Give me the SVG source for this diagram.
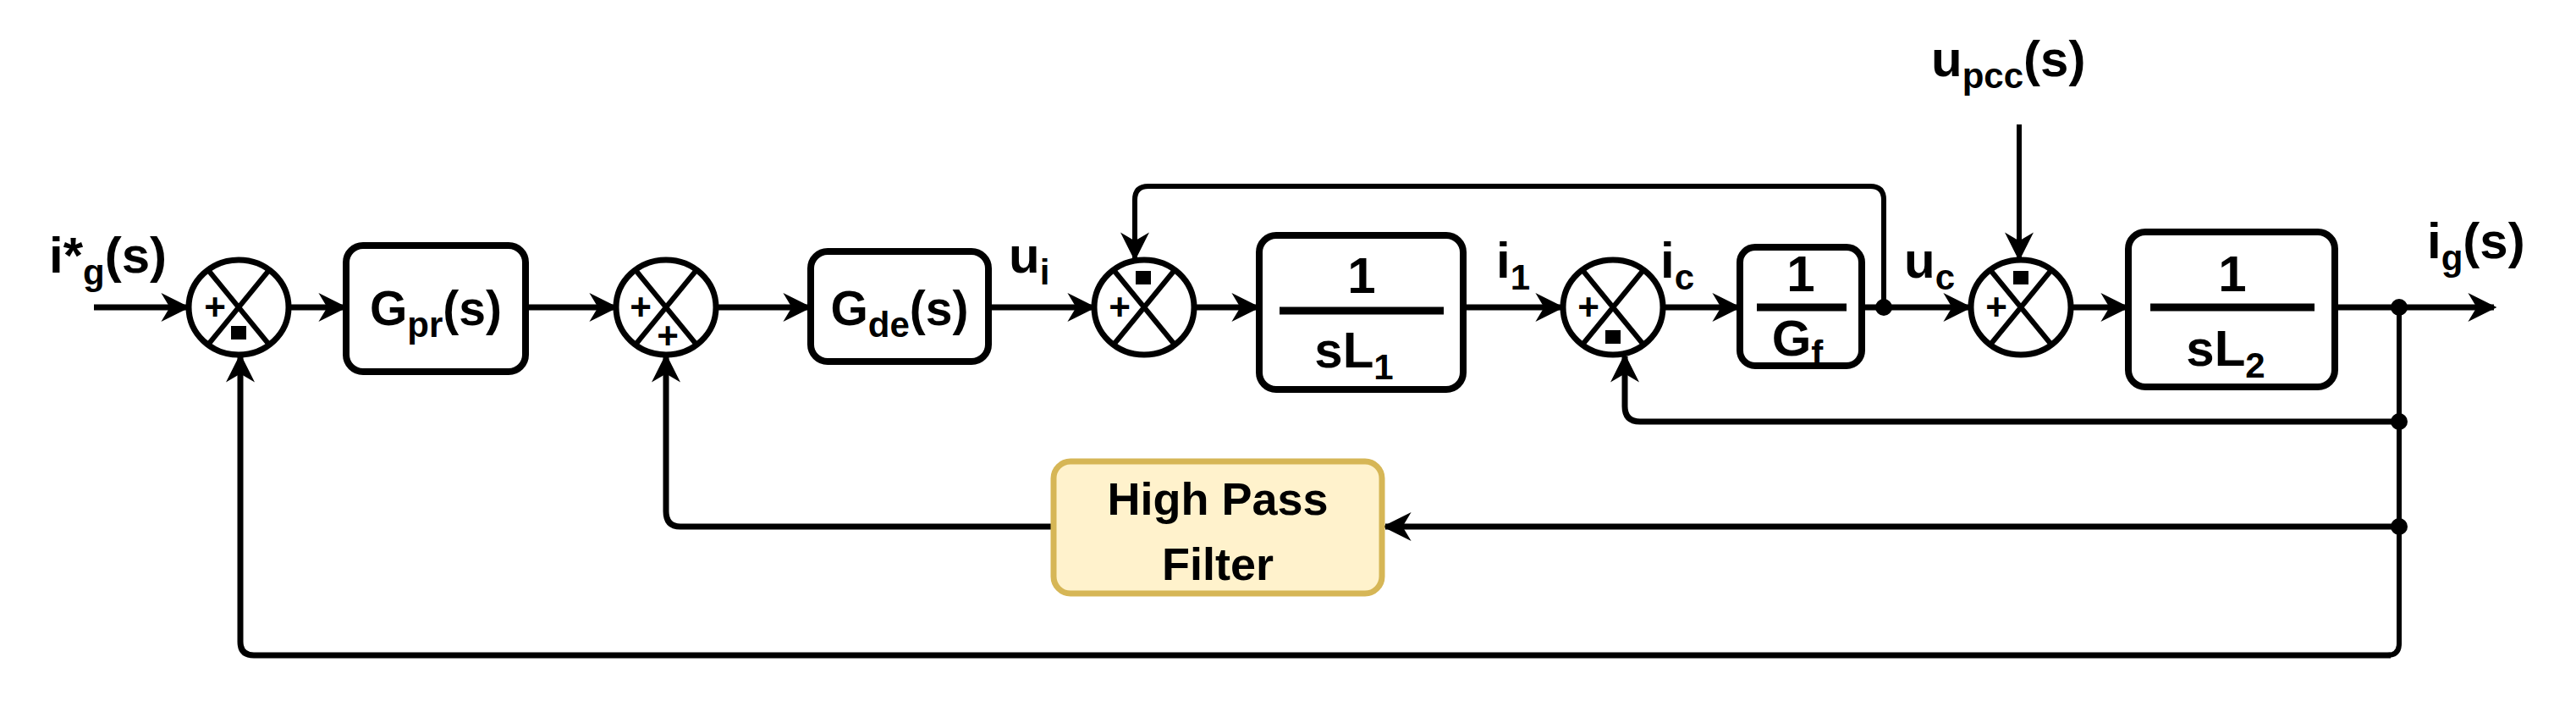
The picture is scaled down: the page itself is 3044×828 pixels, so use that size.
<svg xmlns="http://www.w3.org/2000/svg" width="3044" height="828" viewBox="0 0 3044 828">
<style>
text{font-family:"Liberation Sans",Arial,sans-serif;font-weight:bold;fill:#000}
.lbl{font-size:60px}
.sub{font-size:42px}
.bl{font-size:57px}
.sg{font-size:44px;text-anchor:middle}
.box{fill:#fff;stroke:#000;stroke-width:8}
.sum{fill:#fff;stroke:#000;stroke-width:7}
.w{fill:none;stroke:#000;stroke-width:7;stroke-linejoin:round}
.c{fill:none;stroke:#000;stroke-width:6}
.a{marker-end:url(#ah)}
.frac{stroke:#000;stroke-width:9}
.mid{text-anchor:middle}
</style>
<defs>
<marker id="ah" markerUnits="userSpaceOnUse" markerWidth="34" markerHeight="34" viewBox="0 0 10 10" refX="9" refY="5" orient="auto">
<path d="M0,0 L10,5 L0,10 L3,5 z" fill="#000"/>
</marker>
<g id="sumx">
<ellipse cx="0" cy="0" rx="59" ry="56" class="sum"/>
<line x1="-36" y1="-44" x2="36" y2="44" stroke="#000" stroke-width="6"/>
<line x1="36" y1="-44" x2="-36" y2="44" stroke="#000" stroke-width="6"/>
</g>
</defs>

<g id="connectors">
<path class="w a" d="M111,363 H221"/>
<path class="w a" d="M343,363 H407"/>
<path class="w a" d="M623,363 H727"/>
<path class="w a" d="M848,363 H956"/>
<path class="w a" d="M1170,363 H1292"/>
<path class="w a" d="M1411,363 H1486"/>
<path class="w a" d="M1731,363 H1845"/>
<path class="w a" d="M1966,363 H2054"/>
<path class="w a" d="M2202,363 H2327"/>
<path class="w a" d="M2449,363 H2513"/>
<path class="w a" d="M2761,363 H2947"/>
<path class="c a" d="M2226,363 V236 Q2226,220 2210,220 H1357 Q1341,220 1341,236 V305"/>
<path class="c a" d="M2386,147 V305"/>
<path class="c" d="M2835,363 V760 Q2835,774 2821,774"/>
<path class="w a" d="M2835,498 H1938 Q1920,498 1920,480 V421"/>
<path class="w a" d="M2835,622 H1637"/>
<path class="w a" d="M1243,622 H804 Q787,622 787,604 V421"/>
<path class="w a" d="M2825,774 H300 Q284,774 284,758 V421"/>
<circle cx="2226" cy="363" r="10"/>
<circle cx="2835" cy="363" r="10"/>
<circle cx="2835" cy="498" r="10"/>
<circle cx="2835" cy="622" r="10"/>
</g>

<g id="input-label"><text x="58" y="322" class="lbl">i*<tspan class="sub" dy="14">g</tspan><tspan dy="-14">(s)</tspan></text></g>

<g id="sum1"><use href="#sumx" x="282" y="363"/><text x="254" y="378" class="sg">+</text><rect x="273" y="385" width="18" height="16"/></g>
<g id="gpr"><rect x="409" y="290" width="212" height="149" rx="20" class="box"/><text x="515" y="384" class="bl mid">G<tspan class="sub" dy="14">pr</tspan><tspan dy="-14">(s)</tspan></text></g>
<g id="sum2"><use href="#sumx" x="787" y="363"/><text x="757" y="378" class="sg">+</text><text x="789" y="412" class="sg">+</text></g>
<g id="gde"><rect x="958" y="297" width="210" height="130" rx="20" class="box"/><text x="1063" y="384" class="bl mid">G<tspan class="sub" dy="14">de</tspan><tspan dy="-14">(s)</tspan></text></g>
<g id="ui-label"><text x="1192" y="322" class="lbl">u<tspan class="sub" dy="14">i</tspan></text></g>
<g id="sum3"><use href="#sumx" x="1352" y="363"/><text x="1323" y="378" class="sg">+</text><rect x="1342" y="320" width="18" height="16"/></g>
<g id="sl1"><rect x="1488" y="278" width="241" height="182" rx="20" class="box"/><line x1="1512" y1="367" x2="1706" y2="367" class="frac"/><text x="1609" y="346" class="lbl mid">1</text><text x="1600" y="434" class="lbl mid">sL<tspan class="sub" dy="14">1</tspan></text></g>
<g id="i1-label"><text x="1768" y="328" class="lbl">i<tspan class="sub" dy="14">1</tspan></text></g>
<g id="sum4"><use href="#sumx" x="1906" y="363"/><text x="1877" y="378" class="sg">+</text><rect x="1897" y="390" width="18" height="16"/></g>
<g id="ic-label"><text x="1962" y="328" class="lbl">i<tspan class="sub" dy="14">c</tspan></text></g>
<g id="gf"><rect x="2056" y="292" width="144" height="140" rx="18" class="box"/><line x1="2076" y1="363" x2="2182" y2="363" class="frac"/><text x="2128" y="344" class="lbl mid">1</text><text x="2124" y="420" class="lbl mid">G<tspan class="sub" dy="12">f</tspan></text></g>
<g id="uc-label"><text x="2250" y="328" class="lbl">u<tspan class="sub" dy="14">c</tspan></text></g>
<g id="upcc-label"><text x="2282" y="90" class="lbl">u<tspan class="sub" dy="14">pcc</tspan><tspan dy="-14">(s)</tspan></text></g>
<g id="sum5"><use href="#sumx" x="2388" y="363"/><text x="2359" y="378" class="sg">+</text><rect x="2379" y="320" width="18" height="16"/></g>
<g id="sl2"><rect x="2515" y="274" width="244" height="183" rx="20" class="box"/><line x1="2541" y1="363" x2="2735" y2="363" class="frac"/><text x="2638" y="344" class="lbl mid">1</text><text x="2630" y="432" class="lbl mid">sL<tspan class="sub" dy="14">2</tspan></text></g>
<g id="ig-label"><text x="2868" y="305" class="lbl">i<tspan class="sub" dy="14">g</tspan><tspan dy="-14">(s)</tspan></text></g>
<g id="hpf"><rect x="1245" y="545" width="388" height="156" rx="20" fill="#fff2cc" stroke="#d6b656" stroke-width="7"/><text x="1439" y="608" class="mid" style="font-size:54px">High Pass</text><text x="1439" y="685" class="mid" style="font-size:54px">Filter</text></g>
</svg>
